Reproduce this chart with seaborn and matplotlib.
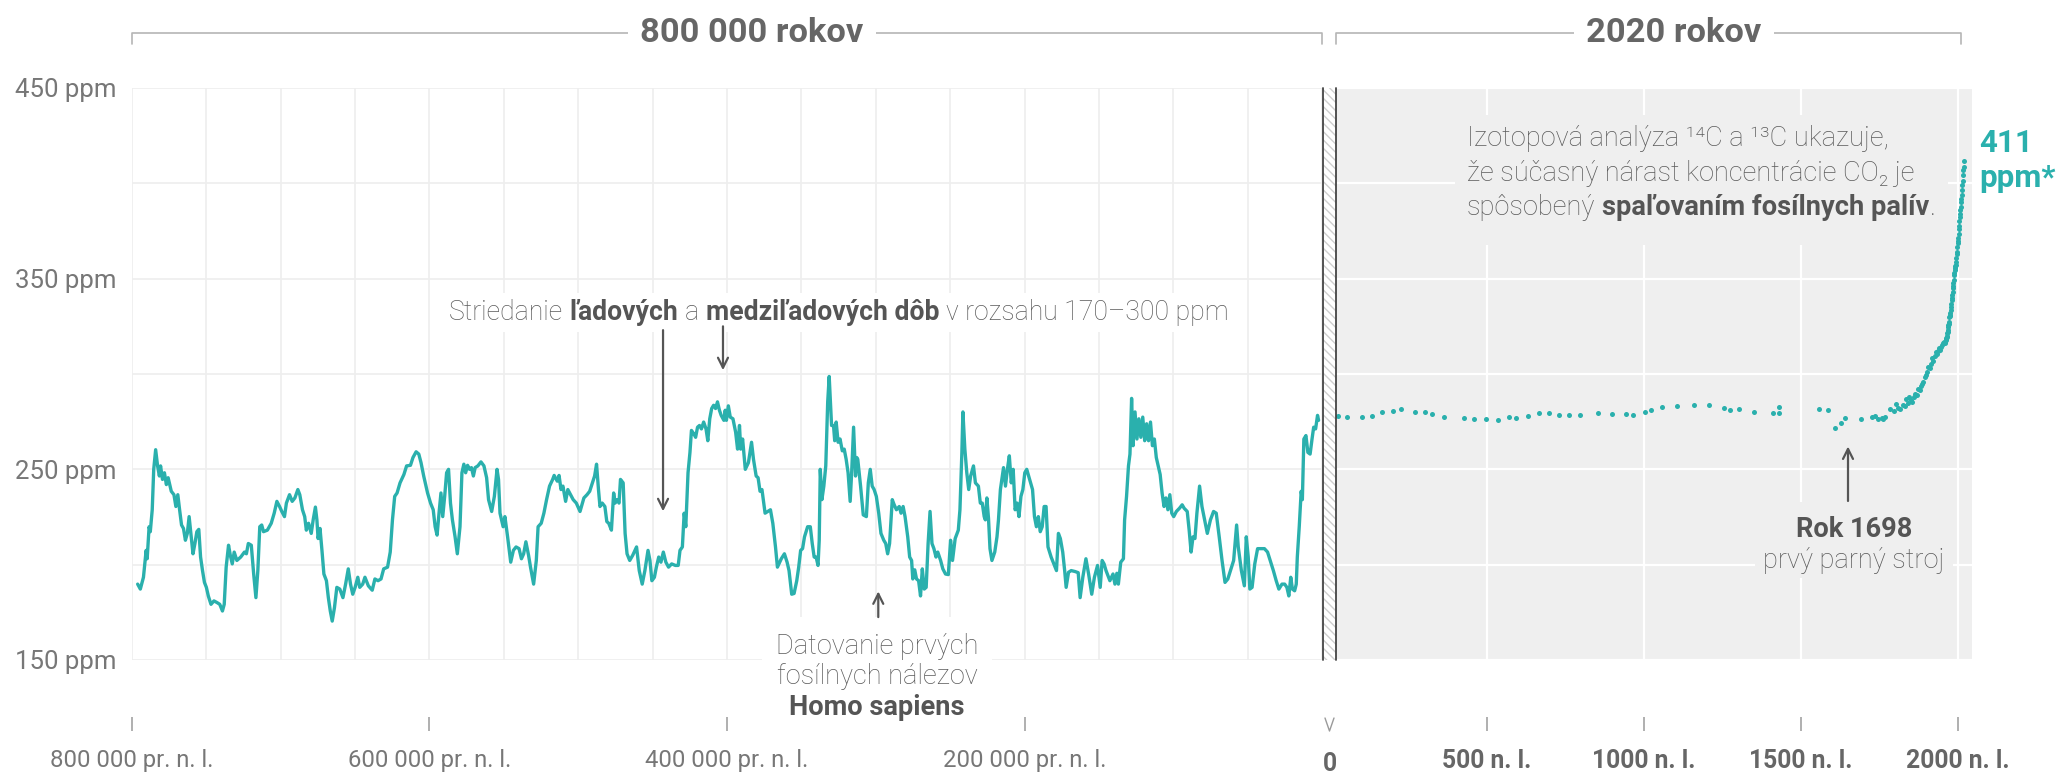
import numpy as np
import pandas as pd
import matplotlib
matplotlib.use("Agg")
import matplotlib.pyplot as plt
import seaborn as sns
from matplotlib.lines import Line2D
from matplotlib.patches import Rectangle
from matplotlib.transforms import Bbox

# --- ľadovcové jadro: vek (tis. rokov pred súčasnosťou) a CO2 (ppm) ---
age_ka = [796.2, 794.4, 792.3, 790.5, 789.8, 788.5, 787.7, 786.4, 785.4, 784.1, 782.8, 781.6, 780.8, 779.5, 778.2,
          776.9, 775.7, 773.6, 771.8, 770.5, 769.2, 768.0, 766.7, 765.4, 764.1, 762.8, 761.6, 760.3, 759.0, 757.7,
          756.4, 755.1, 753.9, 752.6, 751.3, 750.0, 748.7, 746.9, 744.9, 742.8, 741.0, 739.2, 738.0, 736.7, 735.1,
          733.9, 732.6, 731.3, 729.5, 726.9, 724.4, 723.1, 721.8, 719.8, 718.2, 716.7, 715.4, 714.1, 712.8, 711.6,
          709.0, 706.4, 704.4, 702.6, 700.8, 699.3, 697.5, 696.2, 694.1, 692.3, 690.5, 688.5, 687.2, 685.4, 683.9,
          682.8, 681.3, 679.5, 678.2, 676.7, 675.7, 674.9, 673.6, 672.3, 671.0, 669.3, 668.0, 666.7, 665.4, 663.9,
          662.3, 660.3, 658.2, 656.4, 654.6, 653.1, 651.6, 650.0, 648.2, 646.9, 644.9, 643.4, 641.1, 638.5, 636.7,
          634.6, 632.6, 630.8, 628.2, 626.4, 624.9, 623.4, 621.8, 619.8, 617.2, 615.4, 612.8, 611.1, 609.0, 607.2,
          605.7, 603.9, 601.3, 599.3, 597.5, 596.2, 594.9, 593.6, 592.3, 591.1, 589.8, 588.5, 587.2, 585.9, 584.6,
          582.8, 581.3, 579.5, 578.2, 576.9, 575.7, 574.4, 573.1, 571.8, 570.5, 569.3, 567.5, 565.4, 563.4, 561.6,
          560.3, 558.2, 556.4, 554.6, 553.6, 552.6, 550.5, 549.3, 547.5, 545.4, 543.6, 541.8, 539.8, 538.2, 536.7,
          535.2, 533.4, 532.1, 530.0, 528.2, 527.0, 524.9, 523.1, 521.3, 519.3, 517.2, 516.2, 514.1, 512.9, 511.6,
          510.3, 508.5, 507.0, 505.2, 503.4, 501.3, 498.8, 496.2, 494.1, 492.3, 490.5, 489.0, 487.7, 486.4, 485.4,
          483.9, 482.1, 480.8, 479.5, 477.7, 476.2, 475.2, 473.9, 472.6, 471.6, 469.8, 468.5, 467.2, 465.4, 463.4,
          460.8, 459.0, 457.0, 455.2, 453.1, 451.8, 450.5, 448.8, 447.5, 445.9, 444.4, 442.8, 441.1, 439.3, 437.2,
          434.7, 432.8, 431.6, 430.0, 428.8, 427.7, 426.2, 424.9, 423.9, 422.3, 421.1, 419.8, 418.5, 417.2, 415.7,
          414.1, 412.9, 411.6, 410.3, 409.0, 407.7, 406.4, 405.1, 403.9, 402.1,
          401.2, 400.4, 399.1, 397.8, 396.0, 394.2, 392.9, 391.6, 390.8, 389.5, 388.7, 387.7, 385.6, 383.5, 382.2,
          380.4, 379.1, 377.8, 376.5, 374.4, 372.6, 370.8, 369.2, 367.4, 366.1, 363.5, 361.4, 359.6, 358.3, 356.5,
          354.9, 353.1, 351.8, 350.5, 349.2, 347.9, 345.8, 344.0, 342.7, 341.4, 340.1, 338.8, 338.0, 337.3, 336.2,
          334.9, 333.6, 332.3, 331.3, 330.5, 329.7, 328.4, 327.6, 326.6, 325.3, 324.0, 322.5, 321.2, 319.9, 318.6,
          317.2, 316.2, 314.9, 313.6, 312.8, 312.1, 310.2, 308.4, 306.3, 305.0, 303.7, 302.4, 301.1, 299.6, 298.0,
          296.5, 294.6, 293.3, 292.0, 290.7, 288.9, 287.6, 286.1, 284.2, 283.0, 281.6, 280.3, 278.5, 277.2, 275.9,
          275.1, 273.8, 272.6, 271.2, 269.9, 268.7, 267.4, 266.1, 264.8, 263.5, 262.2, 260.9, 259.5, 258.3, 256.4,
          254.9, 253.1, 251.2, 249.7, 248.4, 246.6, 244.5, 243.4, 242.1, 241.4, 240.1, 238.8, 237.5, 236.2, 234.3,
          233.0, 231.0, 229.7, 228.4, 227.1, 226.3, 225.3, 224.2, 223.2, 221.9, 220.0, 218.5, 217.5, 216.2, 214.1,
          212.8, 211.5, 210.2, 208.9, 207.6, 206.3, 205.0, 203.7, 202.4, 201.1, 199.8, 198.5, 197.2, 195.9, 194.6,
          193.3, 192.0, 190.7, 189.4, 188.1, 186.8, 185.5, 184.2, 182.1, 180.3, 178.5, 177.2, 175.9, 174.3, 173.0,
          172.0, 170.4, 168.6, 166.0, 163.9, 162.6, 160.8, 158.7, 156.9, 154.8, 153.0, 150.9, 149.1, 147.8, 146.5,
          145.2, 142.6, 140.5, 139.2, 137.9, 136.9, 135.3, 133.5, 132.7, 131.4, 130.1, 129.1, 128.0, 127.0, 125.7,
          124.4, 123.1, 121.8, 120.5, 119.2, 117.9, 116.6, 115.3, 114.0, 112.7, 111.4, 110.1, 108.8, 107.5, 106.2,
          104.9, 103.6, 102.3, 101.0, 99.7, 97.9, 95.8, 94.0, 92.7, 90.6, 89.3, 88.0, 86.7, 85.4, 84.1,
          82.3, 80.7, 78.9, 77.1, 75.0, 72.9, 71.1, 69.1, 67.2, 65.2, 63.3, 61.5, 59.4, 57.4, 56.3,
          54.2, 52.2, 50.9, 49.6, 48.5, 47.0, 45.2, 43.3, 41.2, 38.7, 36.6, 34.8, 32.7, 30.8, 29.0,
          26.9, 25.1, 23.6, 22.3, 21.0, 19.9, 18.4, 17.3, 16.6, 15.3, 14.0, 13.2, 12.2, 10.8, 9.5,
          8.0, 6.7, 5.6, 4.3, 3.0, 2.3]
co2_ice = [189.8, 187.2, 193.4, 207.5, 203.1, 219.9, 217.3, 228.8, 250.0, 260.3, 251.8, 246.5, 251.8, 244.7, 248.2,
           242.0, 245.6, 238.5, 236.7, 230.5, 236.7, 228.8, 220.8, 219.0, 212.8, 216.4, 225.2, 215.5, 205.7, 211.1,
           217.3, 218.5, 204.0, 196.9, 190.7, 188.1, 183.6, 179.2, 181.0, 180.1, 179.2, 175.7, 179.2, 198.7, 210.2,
           204.9, 200.4, 206.6, 202.2, 204.0, 206.6, 205.7, 211.1, 210.2, 195.1, 182.7, 196.9, 219.9, 220.8, 217.3,
           218.1, 221.7, 227.0, 233.2, 230.5, 227.9, 225.2, 232.3, 236.7, 233.2, 235.0, 239.4, 236.7, 228.8, 225.2,
           218.1, 221.7, 216.4, 223.5, 230.2, 223.5, 213.7, 219.0, 207.5, 195.1, 191.6, 182.7, 175.7, 170.4, 177.4,
           188.1, 187.2, 182.7, 189.8, 197.8, 189.8, 184.5, 188.1, 193.4, 188.1, 189.8, 193.4, 188.9, 186.6, 192.5,
           191.6, 192.5, 197.8, 198.7, 206.6, 223.5, 235.8, 237.6, 242.9, 247.3, 251.8, 252.1, 256.2, 259.2, 258.0,
           253.5, 246.5, 237.6, 232.3, 228.8, 219.9, 215.5, 227.0, 237.6, 225.2, 235.8, 248.2, 250.0, 232.3, 223.5,
           214.6, 205.7, 219.9, 248.2, 252.7, 248.2, 252.1, 250.0, 250.9, 246.5, 250.9, 251.8, 253.9, 251.8, 245.6,
           234.1, 227.9, 235.8, 250.0, 244.7, 227.0, 219.9, 225.2, 214.6, 201.3, 207.5, 209.3, 208.4, 203.1, 205.7,
           212.0, 204.9, 198.7, 189.8, 202.2, 219.9, 221.7, 227.0, 234.1, 241.2, 244.7, 246.8, 243.8, 246.8, 239.4,
           241.2, 233.2, 239.4, 236.7, 234.1, 232.3, 227.9, 235.0, 236.7, 238.5, 242.9, 246.5, 252.7, 239.4, 230.5,
           232.3, 230.5, 222.6, 221.7, 218.1, 237.6, 232.3, 234.1, 232.3, 244.7, 242.9, 216.4, 205.7, 202.2, 204.9,
           209.3, 196.9, 189.8, 196.9, 207.5, 202.2, 191.6, 193.4, 198.7, 204.0, 201.3, 206.6, 201.3, 198.7, 200.4,
           199.6, 199.6, 207.5, 209.3, 227.0, 219.9, 248.2, 258.9, 270.4, 268.6, 266.8, 272.1, 273.0, 271.2, 274.8,
           271.2, 265.0, 276.5, 281.9, 283.6, 281.9, 285.4, 281.0, 278.3, 275.7,
           281.0, 275.7, 283.3, 277.4, 276.5, 269.5, 260.6, 273.0, 260.6, 265.9, 258.9, 250.0, 253.5, 264.2, 255.3,
           246.5, 245.6, 238.5, 239.4, 227.0, 227.9, 228.8, 221.7, 209.3, 198.7, 203.1, 205.7, 201.3, 196.9, 184.5,
           184.9, 191.6, 198.7, 207.5, 208.4, 214.6, 219.9, 219.9, 211.1, 204.0, 204.0, 199.6, 212.8, 250.0, 234.1,
           241.2, 251.8, 285.4, 298.7, 285.4, 273.0, 273.0, 265.0, 274.8, 264.2, 265.9, 259.7, 260.6, 255.3, 248.2,
           233.2, 248.2, 272.1, 246.5, 256.2, 255.3, 241.2, 226.1, 225.2, 242.9, 250.0, 241.2, 239.4, 235.8, 227.0,
           216.4, 212.8, 211.1, 205.7, 211.1, 234.1, 231.4, 228.8, 230.5, 227.0, 230.5, 225.2, 214.6, 204.0, 202.2,
           192.5, 197.3, 192.5, 191.6, 183.6, 197.8, 187.2, 188.1, 211.1, 227.9, 211.1, 208.4, 204.0, 206.6, 202.2,
           197.8, 195.1, 194.8, 212.8, 202.2, 213.7, 218.1, 228.8, 258.9, 280.1, 260.6, 248.2, 239.4, 246.5, 251.8,
           242.9, 241.2, 232.3, 232.3, 225.2, 223.5, 235.0, 224.3, 208.4, 202.2, 206.6, 214.6, 223.5, 239.4, 250.9,
           241.2, 250.0, 257.1, 242.9, 250.0, 228.8, 232.3, 225.2, 235.8, 239.4, 248.2, 250.0, 246.5, 242.9, 239.4,
           225.2, 219.9, 225.2, 217.3, 219.9, 230.5, 230.5, 209.3, 204.0, 200.4, 196.9, 216.4, 213.7, 206.6, 196.9,
           188.1, 196.0, 196.9, 196.4, 195.8, 182.7, 193.4, 203.1, 195.1, 184.5, 193.4, 199.6, 188.1, 202.2, 200.4,
           196.9, 191.6, 195.1, 189.8, 195.5, 189.8, 201.3, 203.1, 223.5, 235.8, 251.8, 258.0, 287.2, 262.4, 280.1,
           265.9, 276.5, 266.8, 277.4, 265.0, 273.9, 265.0, 274.8, 262.4, 265.9, 256.2, 251.8, 247.3, 237.6, 230.5,
           235.0, 228.8, 236.7, 227.0, 225.2, 227.9, 229.6, 231.4, 229.6, 227.9, 218.1, 206.6, 214.6, 213.7, 227.0,
           241.2, 230.5, 223.5, 216.4, 223.5, 227.9, 227.0, 214.6, 202.2, 190.7, 192.5, 196.9, 202.2, 220.8, 209.3,
           196.9, 188.9, 214.6, 204.0, 187.2, 188.1, 200.4, 208.4, 208.4, 208.4, 206.6, 202.2, 196.9, 191.6, 187.2,
           189.8, 189.8, 188.1, 183.6, 193.4, 187.2, 186.3, 189.8, 204.0, 219.9, 238.5, 234.1, 265.9, 267.7, 258.9,
           258.0, 265.9, 272.1, 271.2, 278.3, 275.7]

# --- posledných 2000 rokov (rok n. l., ppm) ---
years_ad = [26, 53, 101, 133, 167, 201, 225, 272, 301, 326, 362, 426, 460, 497, 535, 571, 593, 630, 667, 696,
            730, 762, 797, 855, 897, 944, 966, 1002, 1023, 1056, 1105, 1159, 1207, 1256, 1273, 1304, 1349, 1410,
            1429, 1431, 1558, 1587, 1609, 1627, 1640, 1690, 1725, 1735, 1746, 1757, 1762, 1768, 1784, 1795, 1803,
            1809, 1816, 1824, 1830, 1836, 1840, 1844, 1850, 1854, 1860, 1865, 1870, 1873, 1878, 1883, 1886, 1890,
            1894, 1898, 1902, 1905, 1910, 1914, 1918, 1922, 1926, 1930, 1934, 1938, 1941, 1944, 1947, 1950, 1953,
            1956, 1959, 1960, 1961, 1962, 1963, 1964, 1965, 1966, 1967, 1968, 1969, 1970, 1971, 1972, 1973, 1974,
            1975, 1976, 1977, 1978, 1979, 1980, 1981, 1982, 1983, 1984, 1985, 1986, 1987, 1988, 1989, 1990, 1991,
            1992, 1993, 1994, 1995, 1996, 1997, 1998, 1999, 2000, 2001, 2002, 2003, 2004, 2005, 2006, 2007, 2008,
            2009, 2010, 2011, 2012, 2013, 2014, 2015, 2016, 2017, 2018, 2019]
co2_recent = [277.9, 277.3, 277.5, 278.2, 280.0, 280.7, 281.6, 280.2, 280.0, 278.9, 277.2, 277.0, 276.6, 276.3,
              275.9, 277.5, 276.8, 278.2, 279.5, 279.6, 278.4, 278.6, 278.6, 279.5, 278.9, 279.1, 278.4, 280.3,
              280.9, 282.6, 283.0, 283.9, 283.5, 282.3, 281.2, 281.6, 280.0, 279.6, 279.6, 282.6, 281.9, 280.9,
              271.7, 274.5, 276.8, 276.3, 277.2, 278.2, 276.5, 277.0, 276.5, 277.3, 281.8, 280.5, 284.4, 282.0,
              281.4, 283.9, 283.0, 287.0, 285.0, 287.9, 286.5, 285.3, 288.0, 289.7, 289.0, 292.3, 291.5, 293.5,
              295.0, 296.0, 298.5, 299.5, 301.0, 303.8, 303.0, 305.5, 308.2, 307.0, 309.5, 311.7, 310.5, 312.0,
              313.5, 312.5, 314.0, 315.0, 316.5, 317.0,
              316.0, 316.9, 317.6, 318.5, 319.0, 319.6, 320.0, 321.4, 322.2, 323.1, 324.6, 325.7, 326.3, 327.5,
              329.7, 330.2, 331.1, 332.0, 333.8, 335.4, 336.8, 338.8, 340.1, 341.5, 343.2, 344.9, 346.4, 347.6,
              349.3, 351.7, 353.2, 354.5, 355.7, 356.5, 357.2, 359.0, 361.0, 362.7, 363.9, 366.8, 368.5, 369.7,
              371.3, 373.5, 376.0, 377.7, 380.0, 382.1, 384.0, 385.8, 387.6, 390.1, 391.9, 394.1, 396.7, 398.9,
              401.0, 404.4, 406.8, 408.7, 411.7]

left_ticks = [-800000, -600000, -400000, -200000]
left_labels = ['800 000 pr. n. l.', '600 000 pr. n. l.', '400 000 pr. n. l.', '200 000 pr. n. l.']
right_ticks = [500, 1000, 1500, 2000]
right_labels = ['500 n. l.', '1000 n. l.', '1500 n. l.', '2000 n. l.']
y_ticks = [150, 200, 250, 300, 350, 400, 450]
y_labels = ['150 ppm', '', '250 ppm', '', '350 ppm', '', '450 ppm']

TEAL = '#2AB0AD'
GRAY_TXT = '#5a5a5a'
BOLD_TXT = '#555555'
PANEL_BG = '#efefef'
BODY = 19.6
W, H = 2069, 773

sns.set_theme(style='white')
plt.rcParams['font.family'] = ['Roboto', 'DejaVu Sans']


def fx(px):
    return px / W


def fy(py):
    return 1 - py / H


fig = plt.figure(figsize=(W / 100, H / 100), dpi=100)
ax1 = fig.add_axes([fx(132), fy(660), fx(1322) - fx(132), fy(88) - fy(660)])
ax2 = fig.add_axes([fx(1336), fy(660), fx(1972) - fx(1336), fy(88) - fy(660)])

# --- ľavý panel: 800 000 rokov ---
df_ice = pd.DataFrame({'year': -np.array(age_ka) * 1000, 'co2': co2_ice})
sns.lineplot(data=df_ice, x='year', y='co2', ax=ax1, color=TEAL, lw=2.4, sort=False, zorder=3)
ax1.set_xlim(-800000, 0)
ax1.set_ylim(150, 450)
ax1.set_xticks(left_ticks, left_labels)
ax1.set_xticks(np.arange(-800000, 1, 50000), minor=True)
ax1.set_yticks(y_ticks, y_labels)
ax1.grid(which='both', color='#eeeeee', lw=1.2)
ax1.set_axisbelow(True)
ax1.set_xlabel('')
ax1.set_ylabel('')

# --- pravý panel: 2020 rokov ---
df_rec = pd.DataFrame({'year': years_ad, 'co2': co2_recent})
sns.scatterplot(data=df_rec, x='year', y='co2', ax=ax2, color=TEAL, s=13, linewidth=0, zorder=3)
ax2.set_facecolor(PANEL_BG)
ax2.set_xlim(19, 2045)
ax2.set_ylim(150, 450)
ax2.set_xticks(right_ticks, right_labels)
ax2.set_yticks(y_ticks, [''] * len(y_ticks))
ax2.grid(color='white', lw=1.6)
ax2.set_axisbelow(True)
ax2.set_xlabel('')
ax2.set_ylabel('')

for ax in (ax1, ax2):
    for s in ax.spines.values():
        s.set_visible(False)
    ax.spines['bottom'].set_position(('outward', 41))
    ax.tick_params(axis='x', which='major', bottom=True, length=10, width=1.1, color='#9a9a9a',
                   pad=13, labelcolor='#777777')
    ax.tick_params(axis='x', which='minor', length=0)
    ax.tick_params(axis='y', length=0, pad=11, labelsize=18.5, labelcolor='#777777')

for lab in ax1.get_xticklabels():
    lab.set_fontsize(17.2)
for lab in ax2.get_xticklabels():
    lab.set_fontsize(17.8)
    lab.set_fontweight('bold')
    lab.set_color('#666666')

# --- šrafovaný predel medzi panelmi ---
fig.add_artist(Rectangle((fx(1323), fy(660)), fx(1336) - fx(1323), fy(88) - fy(660),
                         transform=fig.transFigure, facecolor='white', edgecolor='#cfcfcf',
                         hatch='\\\\\\\\', lw=0))
for xp in (1323, 1336):
    fig.add_artist(Line2D([fx(xp), fx(xp)], [fy(660), fy(88)], color='#444444', lw=1.3))

# tick "0" pod predelom
fig.add_artist(Line2D([fx(1325), fx(1329.5), fx(1334)], [fy(718), fy(731), fy(718)], color='#9a9a9a', lw=1.0))
fig.text(fx(1329.5), fy(752), '0', ha='center', va='top', fontsize=17.8, fontweight='bold', color='#666666')


# --- hlavičky ---
def header(x0, x1, xc, label):
    fig.add_artist(Line2D([fx(x0), fx(x0), fx(x1), fx(x1)], [fy(44), fy(33), fy(33), fy(44)],
                          color='#b5b5b5', lw=1.2))
    fig.text(fx(xc), fy(33), label, ha='center', va='center', fontsize=24.8, fontweight='bold',
             color='#666666', bbox=dict(facecolor='white', edgecolor='none', boxstyle='square,pad=0.35'))


header(132, 1322, 752, '800 000 rokov')
header(1336, 1961, 1674, '2020 rokov')


# --- text s rôznou hrúbkou písma (kúsky reťazené za sebou) ---
def rich(ax, x, y, parts, size=BODY, ha='left'):
    s, w, c = parts[0]
    t = ax.text(fx(x), fy(y), s, transform=fig.transFigure, ha=ha, va='baseline', fontsize=size,
                fontweight=w, color=c, zorder=5)
    out = [t]
    for s, w, c, gap in parts[1:]:
        t = ax.annotate(s, xy=(1, 0), xycoords=t, xytext=(gap, 0), textcoords='offset points',
                        ha='left', va='bottom', fontsize=size, fontweight=w, color=c,
                        zorder=5, annotation_clip=False)
        out.append(t)
    return out


L, B = 'light', 'bold'
sp = 4.7
t_stried = rich(ax1, 449, 320, [('Striedanie', L, GRAY_TXT), ('ľadových', B, BOLD_TXT, sp),
                                ('a', L, GRAY_TXT, sp), ('medziľadových dôb', B, BOLD_TXT, sp),
                                ('v rozsahu 170–300 ppm', L, GRAY_TXT, sp)], size=19.2)

t_izo = (rich(ax2, 1467, 146, [('Izotopová analýza ¹⁴C a ¹³C ukazuje,', L, GRAY_TXT)])
         + rich(ax2, 1467, 181, [('že súčasný nárast koncentrácie CO₂ je', L, GRAY_TXT)])
         + rich(ax2, 1467, 215, [('spôsobený', L, GRAY_TXT), ('spaľovaním fosílnych palív', B, BOLD_TXT, sp),
                                 ('.', L, GRAY_TXT, 0.5)]))

t_homo = []
for txt, yb, w in [('Datovanie prvých', 654, L), ('fosílnych nálezov', 684, L), ('Homo sapiens', 715, B)]:
    t_homo += rich(ax1, 877, yb, [(txt, w, BOLD_TXT if w == B else GRAY_TXT)], ha='center')

t_rok = (rich(ax2, 1854, 537, [('Rok 1698', B, BOLD_TXT)], ha='center')
         + rich(ax2, 1854, 568, [('prvý parný stroj', L, GRAY_TXT)], ha='center'))

fig.text(fx(1979), fy(152), '411', ha='left', va='baseline', fontsize=22.5, fontweight='bold', color=TEAL)
fig.text(fx(1979), fy(187), 'ppm*', ha='left', va='baseline', fontsize=22.5, fontweight='bold', color=TEAL)

# podklad pod textami, ktorý prekrýva mriežku
fig.canvas.draw()
renderer = fig.canvas.get_renderer()


def mask(ax, texts, color, px=10, top=8, bottom=8):
    bb = Bbox.union([t.get_window_extent(renderer) for t in texts])
    ax.add_patch(Rectangle(((bb.x0 - px) / W, (bb.y0 - bottom) / H), (bb.width + 2 * px) / W,
                           (bb.height + top + bottom) / H, transform=fig.transFigure,
                           facecolor=color, edgecolor='none', zorder=2))


mask(ax1, t_stried, 'white', px=8, top=6, bottom=6)
mask(ax1, t_homo, 'white', px=14, top=16, bottom=4)
mask(ax2, t_izo, PANEL_BG, px=12, top=10, bottom=24)
mask(ax2, t_rok, PANEL_BG, px=8, top=14, bottom=4)

# --- šípky ---
arrow = dict(arrowstyle='->', color='#555555', lw=1.6, shrinkA=0, shrinkB=0, mutation_scale=18)
ax1.annotate('', xy=(-443000, 228), xytext=(-443000, 323), arrowprops=arrow, annotation_clip=False, zorder=4)
ax1.annotate('', xy=(-402700, 302), xytext=(-402700, 325), arrowprops=arrow, annotation_clip=False, zorder=4)
ax1.annotate('', xy=(-298300, 186), xytext=(-298300, 172.5), arrowprops=arrow, annotation_clip=False, zorder=4)
ax2.annotate('', xy=(1650, 262), xytext=(1650, 233.4), arrowprops=arrow, annotation_clip=False, zorder=4)

fig.savefig('out.png', dpi=100, facecolor='white')
